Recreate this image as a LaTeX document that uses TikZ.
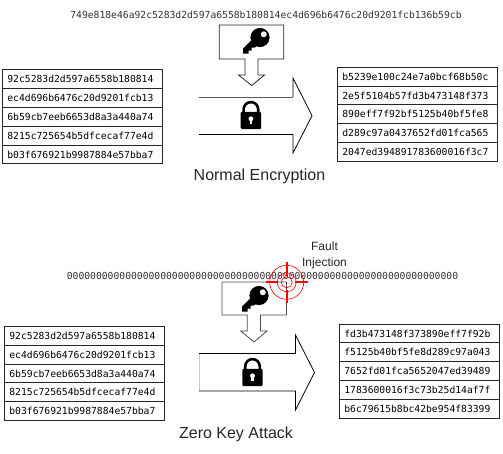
\documentclass[tikz,border=0pt]{standalone}
\usepackage{fontspec}
\setmainfont{Liberation Sans}
\setmonofont{DejaVu Sans Mono}
\tikzset{
  hexrow/.style={draw=black!85,line width=0.8pt,anchor=north west,minimum width=160pt,minimum height=18.8pt,
    inner xsep=5pt,inner ysep=0pt,text width=150pt,align=left,font=\ttfamily\fontsize{9.7}{10}\selectfont},
  keystring/.style={anchor=center,inner sep=0pt,font=\ttfamily\fontsize{9.7}{10}\selectfont,text=black!80},
  caption/.style={anchor=center,inner sep=0pt,font=\fontsize{16}{18}\selectfont,text=black!85},
  faultlabel/.style={anchor=center,inner sep=0pt,align=center,font=\fontsize{12}{16.5}\selectfont,text=black!85},
  keybox/.style={line width=0.8pt,fill=white},
  bigarrow/.style={line width=0.8pt,line join=miter},
  keyicon/.pic={
    \fill[black,even odd rule]
      (17,9.5) circle (9.6)
      (20.8,6.3) circle (3.1);
    \fill[black] (10,10.5) -- (0.2,20.3) -- (0.2,25.6) -- (5.5,25.6) -- (5.5,22.6) -- (8.6,22.6) -- (8.6,19.6) -- (11.6,19.6) -- (16.5,16) -- cycle;
  },
  lockicon/.pic={
    \draw[black,line width=2.6pt] (2.9,12) -- (2.9,8.6) arc[start angle=180,end angle=360,radius=7.3] -- (17.5,12);
    \fill[black,rounded corners=1.2pt] (0,11) rectangle (20.4,28.3);
    \fill[white] (10.2,18) circle (2.4);
    \fill[white] (9.1,18.5) rectangle (11.3,23);
  },
}
\begin{document}
\begin{tikzpicture}[x=1pt,y=-1pt]
\useasboundingbox[fill=white] (0,0) rectangle (503,454);
% --- normal encryption
\node[keystring] (ks1) at (266,14.5) {749e818e46a92c5283d2d597a6558b180814ec4d696b6476c20d9201fcb136b59cb};
\draw[keybox,draw=black!85] (219.3,25) -- (283.7,25) -- (283.7,59) -- (258,59) -- (258,75) -- (264.5,75) -- (251.7,85.5) -- (238.5,75) -- (245,75) -- (245,59) -- (219.3,59) -- cycle;
\pic at (243,28) {keyicon};
\draw[bigarrow,draw=black!65] (199,97) -- (293,97);
\draw[bigarrow,draw=black] (293,97) -- (293,78) -- (312,115.7) -- (293,153) -- (293,134.5) -- (199,134.5);
\pic at (240.7,100.8) {lockicon};
\node[hexrow] (a1) at (2,69.4) {92c5283d2d597a6558b180814};
\node[hexrow] (a2) at (2,88.2) {ec4d696b6476c20d9201fcb13};
\node[hexrow] (a3) at (2,107) {6b59cb7eeb6653d8a3a440a74};
\node[hexrow] (a4) at (2,125.8) {8215c725654b5dfcecaf77e4d};
\node[hexrow] (a5) at (2,144.6) {b03f676921b9987884e57bba7};
\node[hexrow] (b1) at (337,66.8) {b5239e100c24e7a0bcf68b50c};
\node[hexrow] (b2) at (337,85.6) {2e5f5104b57fd3b473148f373};
\node[hexrow] (b3) at (337,104.4) {890eff7f92bf5125b40bf5fe8};
\node[hexrow] (b4) at (337,123.2) {d289c97a0437652fd01fca565};
\node[hexrow] (b5) at (337,142) {2047ed394891783600016f3c7};
\node[caption] (cap1) at (259.5,176.5) {Normal Encryption};
% --- zero key attack
\node[faultlabel] (fault) at (324.5,255.5) {Fault\\Injection};
\node[keystring] (ks2) at (262.5,275.5) {0000000000000000000000000000000000000000000000000000000000000000000};
\draw[keybox,draw=black!70] (222,282) -- (286.5,282) -- (286.5,315) -- (260.5,315) -- (260.5,331) -- (267,331) -- (254,342) -- (240.7,331) -- (247.3,331) -- (247.3,315) -- (222,315) -- cycle;
\pic at (242,286) {keyicon};
\draw[bigarrow,draw=black!20] (199,353.5) -- (199,391);
\draw[bigarrow,draw=black] (199,353.5) -- (295.5,353.5) -- (295.5,335) -- (314.5,372.5) -- (295.5,410) -- (295.5,391) -- (199,391);
\pic at (242.3,357.8) {lockicon};
\node[hexrow] (c1) at (4,326) {92c5283d2d597a6558b180814};
\node[hexrow] (c2) at (4,344.8) {ec4d696b6476c20d9201fcb13};
\node[hexrow] (c3) at (4,363.6) {6b59cb7eeb6653d8a3a440a74};
\node[hexrow] (c4) at (4,382.4) {8215c725654b5dfcecaf77e4d};
\node[hexrow] (c5) at (4,401.2) {b03f676921b9987884e57bba7};
\node[hexrow] (d1) at (339,323.6) {fd3b473148f373890eff7f92b};
\node[hexrow] (d2) at (339,342.4) {f5125b40bf5fe8d289c97a043};
\node[hexrow] (d3) at (339,361.2) {7652fd01fca5652047ed39489};
\node[hexrow] (d4) at (339,380) {1783600016f3c73b25d14af7f};
\node[hexrow] (d5) at (339,398.8) {b6c79615b8bc42be954f83399};
\node[caption] (cap2) at (236,434.5) {Zero Key Attack};
% --- crosshair
\coordinate (aim) at (286.7,282.3);
\draw[red,line width=0.6pt] (aim) circle (17) (aim) circle (9.5) (aim) circle (5.5);
\draw[red,line width=2.2pt] (266,282.3) -- (278,282.3) (295,282.3) -- (308,282.3) (286.7,262) -- (286.7,276) (286.7,290) -- (286.7,303);
\end{tikzpicture}
\end{document}
